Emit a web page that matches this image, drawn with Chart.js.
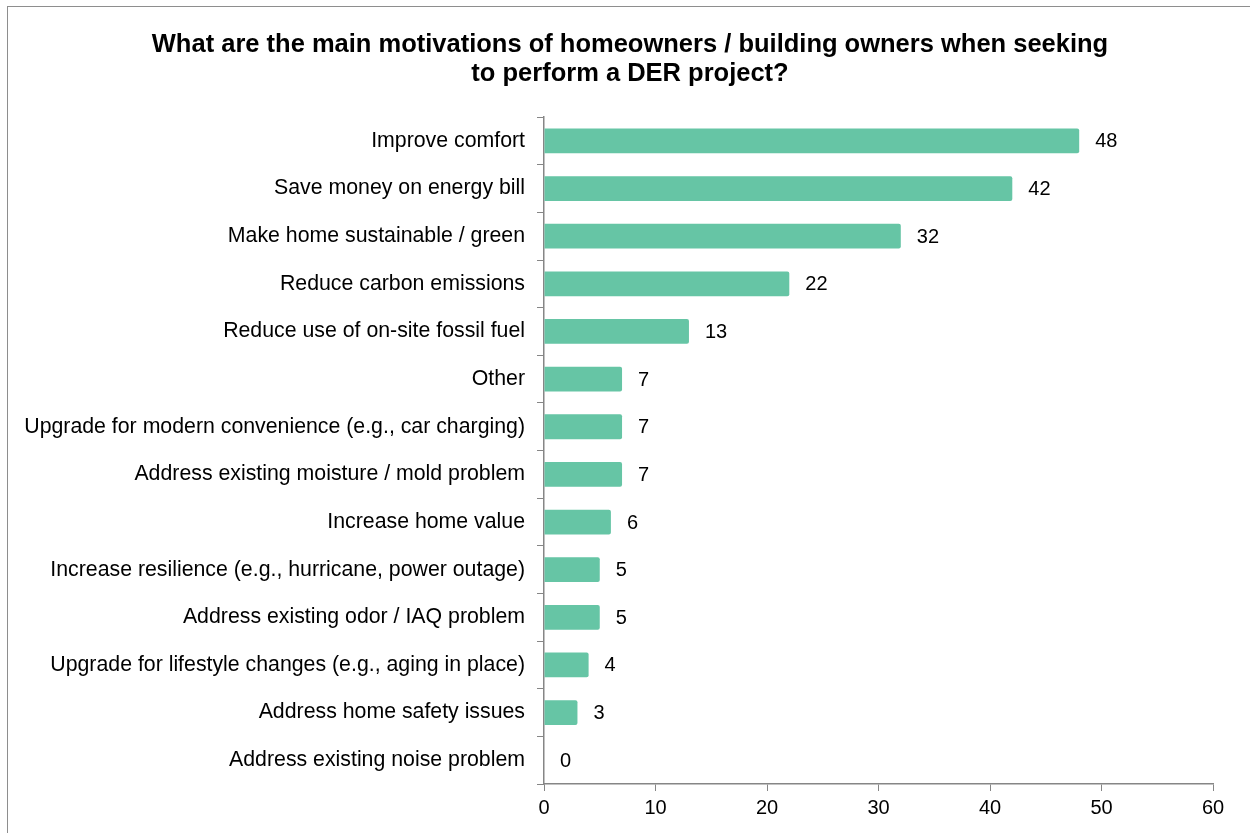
<!DOCTYPE html>
<html>
    <head>
        <title>DER motivations</title>
        <meta charset="UTF-8" />
        <script src="https://cdn.jsdelivr.net/npm/chart.js"></script>
        <style>
            body { margin: 0; overflow: hidden; background: #ffffff; }
            #frame {
                position: absolute; left: 7px; top: 6px;
                width: 1300px; height: 900px;
                border: 1px solid #8e8e8e;
                pointer-events: none;
            }
            #myChart { position: absolute; left: 0; top: 0; }
        </style>
    </head>
    <body>
        <canvas id="myChart" width="1250" height="833"></canvas>
        <div id="frame"></div>
        <script>
            // 回答データ
            var motivations = [
                'Improve comfort',
                'Save money on energy bill',
                'Make home sustainable / green',
                'Reduce carbon emissions',
                'Reduce use of on-site fossil fuel',
                'Other',
                'Upgrade for modern convenience (e.g., car charging)',
                'Address existing moisture / mold problem',
                'Increase home value',
                'Increase resilience (e.g., hurricane, power outage)',
                'Address existing odor / IAQ problem',
                'Upgrade for lifestyle changes (e.g., aging in place)',
                'Address home safety issues',
                'Address existing noise problem'
            ];
            var responses = [48, 42, 32, 22, 13, 7, 7, 7, 6, 5, 5, 4, 3, 0];
            var titleLines = [
                'What are the main motivations of homeowners / building owners when seeking',
                'to perform a DER project?'
            ];

            var axisGray = '#868686';
            var fontFamily = "'Liberation Sans', Arial, sans-serif";

            // バーの右に数値を描くプラグイン
            var valueLabels = {
                id: 'valueLabels',
                afterDatasetsDraw: function(chart) {
                    var ctx = chart.ctx;
                    var meta = chart.getDatasetMeta(0);
                    ctx.save();
                    ctx.font = '20px ' + fontFamily;
                    ctx.fillStyle = '#000000';
                    ctx.textAlign = 'left';
                    ctx.textBaseline = 'middle';
                    meta.data.forEach(function(bar, i) {
                        ctx.fillText(String(responses[i]), bar.x + 16, bar.y + 1);
                    });
                    ctx.restore();
                }
            };

            var ctx = document.getElementById('myChart').getContext('2d');
            var myChart = new Chart(ctx, {
                type: 'bar',
                data: {
                    labels: motivations,
                    datasets: [{
                        data: responses,
                        backgroundColor: '#66C5A5',
                        borderWidth: 0,
                        borderRadius: 2,
                        barPercentage: 0.52,
                        categoryPercentage: 1.0
                    }]
                },
                options: {
                    indexAxis: 'y',
                    responsive: false,
                    animation: false,
                    layout: { padding: { left: 10, right: 0, top: 30, bottom: 8 } },
                    plugins: {
                        legend: { display: false },
                        tooltip: { enabled: false },
                        title: {
                            display: true,
                            text: titleLines,
                            color: '#000000',
                            font: { family: fontFamily, size: 25.5, weight: 'bold', lineHeight: 1.14 },
                            padding: { top: 0, bottom: 29 }
                        }
                    },
                    scales: {
                        x: {
                            min: 0,
                            max: 60,
                            ticks: {
                                stepSize: 10,
                                color: '#000000',
                                padding: 5,
                                font: { family: fontFamily, size: 20 }
                            },
                            grid: {
                                drawOnChartArea: false,
                                drawTicks: true,
                                tickLength: 7,
                                color: axisGray
                            },
                            border: { display: true, color: axisGray, width: 1.5 }
                        },
                        y: {
                            ticks: {
                                color: '#000000',
                                padding: 12,
                                font: { family: fontFamily, size: 21.3 }
                            },
                            grid: {
                                drawOnChartArea: false,
                                drawTicks: true,
                                tickLength: 7,
                                color: axisGray
                            },
                            border: { display: true, color: axisGray, width: 1.5 },
                            afterFit: function(scale) { scale.width = 534; }
                        },
                        // 右余白用の空の軸
                        spacer: {
                            type: 'linear',
                            position: 'right',
                            display: true,
                            ticks: { display: false },
                            grid: { display: false },
                            border: { display: false },
                            afterFit: function(scale) { scale.width = 37; }
                        }
                    }
                },
                plugins: [valueLabels]
            });
        </script>
    </body>
</html>
